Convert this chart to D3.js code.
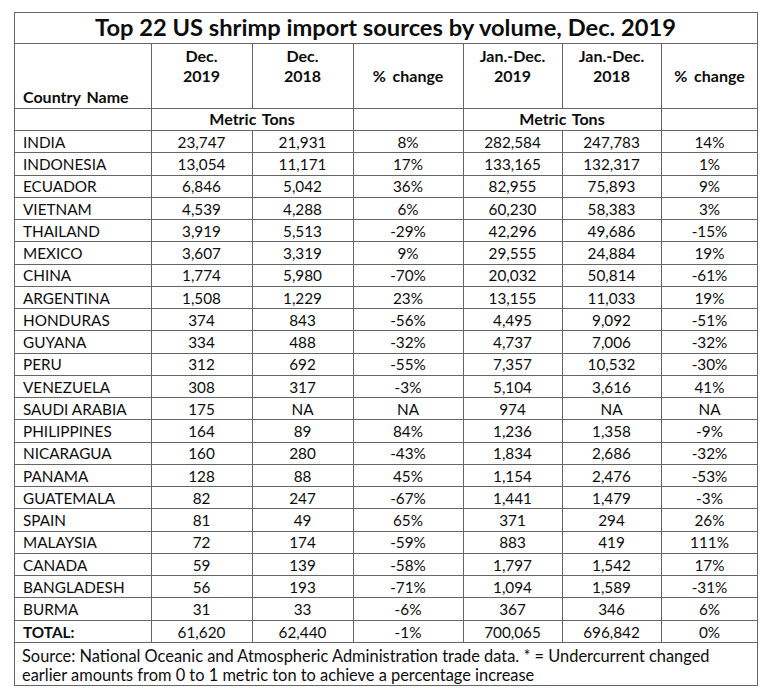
<!DOCTYPE html>
<html><head><meta charset="utf-8">
<script src="https://cdn.jsdelivr.net/npm/d3@7"></script>
<style>
html,body{margin:0;padding:0;background:#fff;}
svg{display:block;}
text{font-family:Lato,"Open Sans",sans-serif;fill:#0d0d0d;}
</style></head>
<body><svg id="chart" width="768" height="696"></svg>
<script>
// ---- data ----
const title = "Top 22 US shrimp import sources by volume, Dec. 2019";
const countries = ["INDIA","INDONESIA","ECUADOR","VIETNAM","THAILAND","MEXICO","CHINA","ARGENTINA","HONDURAS","GUYANA","PERU","VENEZUELA","SAUDI ARABIA","PHILIPPINES","NICARAGUA","PANAMA","GUATEMALA","SPAIN","MALAYSIA","CANADA","BANGLADESH","BURMA"];
const dec2019 = [23747,13054,6846,4539,3919,3607,1774,1508,374,334,312,308,175,164,160,128,82,81,72,59,56,31];
const dec2018 = [21931,11171,5042,4288,5513,3319,5980,1229,843,488,692,317,null,89,280,88,247,49,174,139,193,33];
const decChange = [8,17,36,6,-29,9,-70,23,-56,-32,-55,-3,null,84,-43,45,-67,65,-59,-58,-71,-6];
const ytd2019 = [282584,133165,82955,60230,42296,29555,20032,13155,4495,4737,7357,5104,974,1236,1834,1154,1441,371,883,1797,1094,367];
const ytd2018 = [247783,132317,75893,58383,49686,24884,50814,11033,9092,7006,10532,3616,null,1358,2686,2476,1479,294,419,1542,1589,346];
const ytdChange = [14,1,9,3,-15,19,-61,19,-51,-32,-30,41,null,-9,-32,-53,-3,26,111,17,-31,6];
const totalLabel = "TOTAL:";
const totals = [61620,62440,-1,700065,696842,0];
const headerTop = ["","Dec.","Dec.","","Jan.-Dec.","Jan.-Dec.",""];
const headerBottom = ["","2019","2018","","2019","2018",""];
const unitLabel = "Metric Tons";
const footnote = ["Source: National Oceanic and Atmospheric Administration trade data. * = Undercurrent changed",
                  "earlier amounts from 0 to 1 metric ton to achieve a percentage increase"];

// ---- layout ----
const svg = d3.select("#chart");
const L = 14, R = 758, T = 12;
const titleBottom = 43, headBottom = 108, unitBottom = 130, tableBottom = 642, B = 686;
const colEdges = [L,151,252,353,463,562,661,R];
const lineColor = "#666";

const rowKeys = countries.concat([totalLabel]);
const y = d3.scaleBand().domain(rowKeys).range([unitBottom, tableBottom]).padding(0);
const col = d3.scaleOrdinal().domain(d3.range(7)).range(colEdges.slice(0,7));
const colW = i => colEdges[i+1]-colEdges[i];
const cx = i => col(i) + colW(i)/2;

const num = v => v==null ? "NA" : d3.format(",")(v);
const pct = v => v==null ? "NA" : v + "%";

const rows = countries.map((c,i)=>[c, num(dec2019[i]), num(dec2018[i]), pct(decChange[i]), num(ytd2019[i]), num(ytd2018[i]), pct(ytdChange[i])]);
rows.push([totalLabel, num(totals[0]), num(totals[1]), pct(totals[2]), num(totals[3]), num(totals[4]), pct(totals[5])]);

// ---- grid ----
const g = svg.append("g").attr("stroke", lineColor).attr("stroke-width",1).attr("shape-rendering","crispEdges");
g.append("rect").attr("x",L+0.5).attr("y",T+0.5).attr("width",R-L-1).attr("height",B-T-1).attr("fill","none");
const hLines = [titleBottom, headBottom, unitBottom].concat(rowKeys.map(k=>y(k)+y.bandwidth()));
g.selectAll("line.h").data(hLines).join("line").attr("class","h")
  .attr("x1",L).attr("x2",R).attr("y1",d=>Math.round(d)+0.5).attr("y2",d=>Math.round(d)+0.5);
for(let i=1;i<7;i++){
  const x = colEdges[i]+0.5;
  g.append("line").attr("x1",x).attr("x2",x).attr("y1",titleBottom).attr("y2",headBottom);
  g.append("line").attr("x1",x).attr("x2",x).attr("y1",unitBottom).attr("y2",tableBottom);
  if(i!==2 && i!==5) g.append("line").attr("x1",x).attr("x2",x).attr("y1",headBottom).attr("y2",unitBottom);
}

// ---- text ----
svg.append("text").attr("x",(L+R)/2-0.5).attr("y",36).attr("text-anchor","middle")
  .attr("font-size",23.7).attr("font-weight","bold").text(title);

const hdr = svg.append("g").attr("font-weight","bold").attr("font-size",16);
headerTop.forEach((t,i)=>{ if(t) hdr.append("text").attr("x",cx(i)).attr("y",62).attr("text-anchor","middle").text(t); });
headerBottom.forEach((t,i)=>{ if(t) hdr.append("text").attr("x",cx(i)).attr("y",82).attr("text-anchor","middle").text(t); });
hdr.append("text").attr("x",cx(3)).attr("y",82).attr("text-anchor","middle").attr("word-spacing",3).text("% change");
hdr.append("text").attr("x",cx(6)).attr("y",82).attr("text-anchor","middle").attr("word-spacing",3).text("% change");
hdr.append("text").attr("x",L+9).attr("y",103).attr("word-spacing",2).text("Country Name");
hdr.append("text").attr("x",colEdges[1]+(colEdges[3]-colEdges[1])/2).attr("y",125).attr("text-anchor","middle").attr("word-spacing",2).text(unitLabel);
hdr.append("text").attr("x",colEdges[4]+(colEdges[6]-colEdges[4])/2).attr("y",125).attr("text-anchor","middle").attr("word-spacing",2).text(unitLabel);

const body = svg.append("g").attr("font-size",15.3);
const rowG = body.selectAll("g.row").data(rows).join("g").attr("class","row")
  .attr("transform",(d,i)=>`translate(0,${y(rowKeys[i])+y.bandwidth()-4.5})`);
rowG.selectAll("text").data(d=>d.map((v,i)=>({v,i}))).join("text")
  .attr("x",d=>d.i===0?L+9:cx(d.i))
  .attr("text-anchor",d=>d.i===0?"start":"middle")
  .text(d=>d.v);
rowG.filter((d,i)=>i===rows.length-1)
  .selectAll("text").filter(d=>d.i===0).attr("font-weight","bold");

svg.append("g").attr("font-size",16.4).selectAll("text").data(footnote).join("text")
  .attr("x",L+8).attr("y",(d,i)=>662+i*19).text(d=>d);
</script></body></html>
